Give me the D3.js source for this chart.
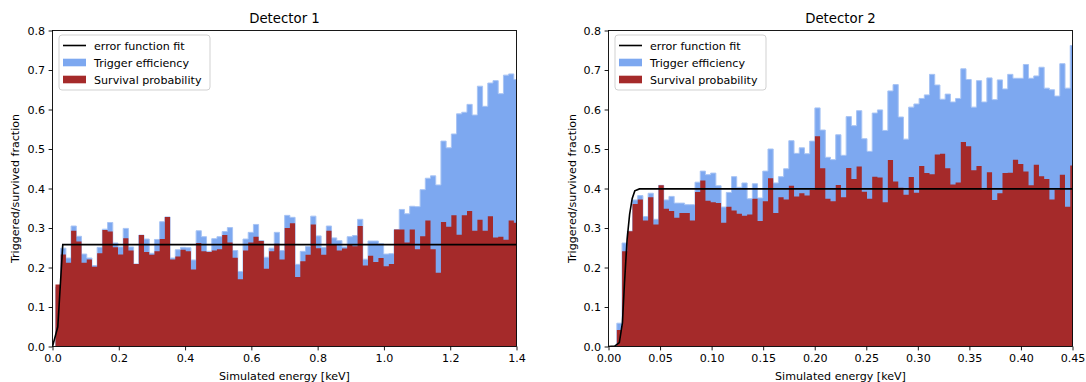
<!DOCTYPE html>
<html>
<head>
<meta charset="utf-8">
<script src="https://cdn.jsdelivr.net/npm/d3@7"></script>
<style>
  body { margin: 0; background: #fff; }
  text { font-family: "DejaVu Sans", sans-serif; fill: #000; }
</style>
</head>
<body>
<svg id="chart" width="1086" height="382"></svg>
<script>
// ---- data ----
// Detector 1: 89 bins starting at 0.009 keV, width 0.015716 keV
const trig1 = [0.150, 0.249, 0.224, 0.305, 0.279, 0.234, 0.224, 0.205, 0.251, 0.297,
  0.314, 0.262, 0.252, 0.299, 0.252, 0.209, 0.282, 0.272, 0.236, 0.271,
  0.316, 0.328, 0.224, 0.245, 0.251, 0.250, 0.219, 0.293, 0.278, 0.241,
  0.273, 0.278, 0.291, 0.301, 0.243, 0.190, 0.272, 0.289, 0.309, 0.268,
  0.226, 0.249, 0.289, 0.243, 0.332, 0.327, 0.208, 0.241, 0.253, 0.330,
  0.280, 0.251, 0.305, 0.275, 0.268, 0.252, 0.278, 0.281, 0.322, 0.221,
  0.267, 0.267, 0.260, 0.234, 0.235, 0.296, 0.347, 0.336, 0.355, 0.354,
  0.397, 0.426, 0.432, 0.409, 0.520, 0.503, 0.538, 0.589, 0.593, 0.613,
  0.586, 0.659, 0.608, 0.667, 0.673, 0.640, 0.687, 0.690, 0.676];
const surv1 = [0.157, 0.233, 0.212, 0.293, 0.266, 0.212, 0.220, 0.202, 0.236, 0.295,
  0.291, 0.251, 0.233, 0.274, 0.243, 0.209, 0.282, 0.239, 0.232, 0.241,
  0.272, 0.328, 0.220, 0.228, 0.245, 0.241, 0.195, 0.262, 0.241, 0.239,
  0.243, 0.246, 0.282, 0.263, 0.225, 0.170, 0.243, 0.263, 0.278, 0.267,
  0.197, 0.241, 0.260, 0.220, 0.300, 0.312, 0.176, 0.216, 0.232, 0.309,
  0.249, 0.232, 0.293, 0.258, 0.243, 0.248, 0.258, 0.254, 0.305, 0.205,
  0.230, 0.214, 0.224, 0.203, 0.209, 0.296, 0.296, 0.263, 0.296, 0.246,
  0.279, 0.319, 0.246, 0.187, 0.315, 0.303, 0.332, 0.283, 0.332, 0.343,
  0.293, 0.321, 0.293, 0.330, 0.276, 0.278, 0.270, 0.319, 0.313];
const fit1X = [0, 0.016, 0.031, 1.4];
const fit1Y = [0, 0.05, 0.258, 0.258];

// Detector 2: 89 bins starting at 0.00305 keV, width 0.005054 keV
const trig2 = [0.0, 0.059, 0.262, 0.292, 0.371, 0.382, 0.329, 0.388, 0.322, 0.408,
  0.371, 0.380, 0.363, 0.363, 0.359, 0.359, 0.416, 0.444, 0.435, 0.439,
  0.407, 0.353, 0.390, 0.430, 0.403, 0.414, 0.374, 0.412, 0.376, 0.444,
  0.500, 0.414, 0.430, 0.450, 0.521, 0.489, 0.503, 0.488, 0.520, 0.604,
  0.548, 0.479, 0.473, 0.536, 0.484, 0.582, 0.559, 0.597, 0.526, 0.494,
  0.591, 0.599, 0.547, 0.647, 0.663, 0.581, 0.525, 0.606, 0.614, 0.628,
  0.637, 0.689, 0.662, 0.626, 0.639, 0.619, 0.628, 0.703, 0.676, 0.606,
  0.673, 0.619, 0.680, 0.625, 0.675, 0.652, 0.689, 0.679, 0.679, 0.714,
  0.679, 0.685, 0.707, 0.654, 0.650, 0.634, 0.716, 0.654, 0.762];
const surv2 = [0.0, 0.042, 0.241, 0.292, 0.361, 0.372, 0.319, 0.378, 0.309, 0.408,
  0.349, 0.343, 0.326, 0.338, 0.338, 0.319, 0.391, 0.420, 0.369, 0.365,
  0.363, 0.313, 0.354, 0.344, 0.336, 0.331, 0.334, 0.374, 0.318, 0.368,
  0.426, 0.338, 0.378, 0.372, 0.407, 0.380, 0.388, 0.382, 0.396, 0.532,
  0.451, 0.374, 0.368, 0.409, 0.378, 0.452, 0.424, 0.456, 0.392, 0.374,
  0.430, 0.428, 0.365, 0.472, 0.418, 0.402, 0.384, 0.429, 0.389, 0.457,
  0.439, 0.436, 0.486, 0.488, 0.451, 0.410, 0.415, 0.518, 0.507, 0.446,
  0.457, 0.397, 0.441, 0.371, 0.388, 0.439, 0.440, 0.473, 0.462, 0.443,
  0.408, 0.460, 0.431, 0.424, 0.372, 0.397, 0.435, 0.354, 0.458];
const fit2X = [0, 0.006, 0.0105, 0.0135, 0.0155, 0.018, 0.0205, 0.023, 0.0255, 0.03, 0.45];
const fit2Y = [0, 0.001, 0.01, 0.06, 0.16, 0.27, 0.335, 0.375, 0.394, 0.399, 0.399];

const yTicks = [0, 0.1, 0.2, 0.3, 0.4, 0.5, 0.6, 0.7, 0.8];
const xTicks1 = [0, 0.2, 0.4, 0.6, 0.8, 1.0, 1.2, 1.4];
const xTicks2 = [0, 0.05, 0.1, 0.15, 0.2, 0.25, 0.3, 0.35, 0.4, 0.45];
const legendLabels = ['error function fit', 'Trigger efficiency', 'Survival probability'];

const panels = [
  { title: 'Detector 1', left: 52.5, right: 516.5, xmax: 1.4, start: 0.009, width: 0.015716,
    trig: trig1, surv: surv1, fitX: fit1X, fitY: fit1Y, ticks: xTicks1, fmt: '.1f', ylabX: 15 },
  { title: 'Detector 2', left: 608.5, right: 1072.5, xmax: 0.45, start: 0.00305, width: 0.005054,
    trig: trig2, surv: surv2, fitX: fit2X, fitY: fit2Y, ticks: xTicks2, fmt: '.2f', ylabX: 572 }
];

const axTop = 30.5, axBottom = 346.5;
const blue = '#7da8f0', red = '#a52a2a';
const svg = d3.select('#chart');

panels.forEach((p, pi) => {
  const x = d3.scaleLinear().domain([0, p.xmax]).range([p.left, p.right]);
  const y = d3.scaleLinear().domain([0, 0.8]).range([axBottom, axTop]);

  const clipId = 'clip' + pi;
  svg.append('clipPath').attr('id', clipId)
    .append('rect').attr('x', p.left).attr('y', axTop)
    .attr('width', p.right - p.left).attr('height', axBottom - axTop);

  const g = svg.append('g').attr('clip-path', 'url(#' + clipId + ')');

  const steps = (vals) => {
    const pts = vals.map((v, i) => ({ e: p.start + i * p.width, v }));
    pts.push({ e: p.start + vals.length * p.width, v: vals[vals.length - 1] });
    return pts;
  };
  const area = d3.area().curve(d3.curveStepAfter)
    .x(d => x(d.e)).y0(y(0)).y1(d => y(d.v));
  const edge = d3.line().curve(d3.curveStepAfter)
    .x(d => x(d.e)).y(d => y(d.v));

  g.append('path').attr('d', area(steps(p.trig))).attr('fill', blue);
  g.append('path').attr('d', edge(steps(p.trig))).attr('fill', 'none')
    .attr('stroke', '#a8c4f4').attr('stroke-width', 1);
  g.append('path').attr('d', area(steps(p.surv))).attr('fill', red);

  const fit = p.fitX.map((v, i) => [v, p.fitY[i]]);
  g.append('path')
    .attr('d', d3.line().x(d => x(d[0])).y(d => y(d[1]))(fit))
    .attr('fill', 'none').attr('stroke', '#000').attr('stroke-width', 1.6);

  // axes
  const xa = svg.append('g').attr('transform', 'translate(0,' + axBottom + ')')
    .call(d3.axisBottom(x).tickValues(p.ticks).tickFormat(d3.format(p.fmt))
      .tickSize(3.9).tickPadding(3.5).tickSizeOuter(0));
  const ya = svg.append('g').attr('transform', 'translate(' + p.left + ',0)')
    .call(d3.axisLeft(y).tickValues(yTicks).tickFormat(d3.format('.1f'))
      .tickSize(3.9).tickPadding(3.5).tickSizeOuter(0));
  [xa, ya].forEach(a => {
    a.select('.domain').remove();
    a.selectAll('text').attr('font-size', '11.1px').attr('font-family', '"DejaVu Sans", sans-serif');
    a.selectAll('line').attr('stroke', '#000').attr('stroke-width', 0.9);
  });

  svg.append('rect').attr('x', p.left).attr('y', axTop)
    .attr('width', p.right - p.left).attr('height', axBottom - axTop)
    .attr('fill', 'none').attr('stroke', '#000').attr('stroke-width', 0.9);

  // titles and labels
  const cx = (p.left + p.right) / 2;
  svg.append('text').attr('x', cx).attr('y', 23).attr('text-anchor', 'middle')
    .attr('font-size', '13.3px').text(p.title);
  svg.append('text').attr('x', cx).attr('y', 380).attr('text-anchor', 'middle')
    .attr('font-size', '11.1px').text('Simulated energy [keV]');
  svg.append('text').attr('transform', 'translate(' + (p.ylabX + 4) + ',' + ((axTop + axBottom) / 2) + ') rotate(-90)')
    .attr('text-anchor', 'middle').attr('font-size', '11.1px').text('Triggered/survived fraction');

  // legend
  const lx = p.left + 6.5, ly = axTop + 4.5;
  const lg = svg.append('g').attr('transform', 'translate(' + lx + ',' + ly + ')');
  lg.append('rect').attr('width', 151).attr('height', 55).attr('rx', 3)
    .attr('fill', '#fff').attr('fill-opacity', 0.8).attr('stroke', '#cccccc').attr('stroke-width', 0.9);
  legendLabels.forEach((lab, i) => {
    const ry = 10.5 + i * 17;
    if (i === 0) {
      lg.append('line').attr('x1', 4).attr('x2', 27).attr('y1', ry).attr('y2', ry)
        .attr('stroke', '#000').attr('stroke-width', 1.6);
    } else {
      lg.append('rect').attr('x', 4).attr('y', ry - 3.8).attr('width', 23).attr('height', 7.6)
        .attr('fill', i === 1 ? blue : red);
    }
    lg.append('text').attr('x', 35).attr('y', ry + 4).attr('font-size', '11.1px').text(lab);
  });
});
</script>
</body>
</html>
